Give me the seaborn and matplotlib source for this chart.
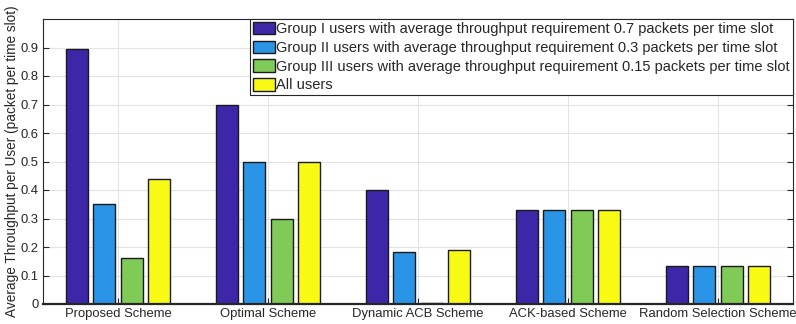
import matplotlib
matplotlib.use("Agg")
import matplotlib.pyplot as plt
import seaborn as sns
import pandas as pd
from matplotlib.patches import Patch

schemes = ["Proposed Scheme", "Optimal Scheme", "Dynamic ACB Scheme",
           "ACK-based Scheme", "Random Selection Scheme"]
group_labels = [
    "Group I users with average throughput requirement 0.7 packets per time slot",
    "Group II users with average throughput requirement 0.3 packets per time slot",
    "Group III users with average throughput requirement 0.15 packets per time slot",
    "All users",
]
group1 = [0.893, 0.70, 0.40, 0.33, 0.135]
group2 = [0.352, 0.50, 0.183, 0.33, 0.135]
group3 = [0.162, 0.30, 0.003, 0.33, 0.135]
all_users = [0.44, 0.50, 0.191, 0.33, 0.135]
yticks = [0, 0.1, 0.2, 0.3, 0.4, 0.5, 0.6, 0.7, 0.8, 0.9]

colors = ["#3E26A8", "#2A95E6", "#80CB58", "#F9FA14"]

rows = []
for label, vals in zip(group_labels, [group1, group2, group3, all_users]):
    for s, v in zip(schemes, vals):
        rows.append({"Scheme": s, "Group": label, "Throughput": v})
df = pd.DataFrame(rows)

sns.set_theme(style="white")
plt.rcParams["font.family"] = ["Liberation Sans", "DejaVu Sans"]

fig = plt.figure(figsize=(7.96, 3.24), dpi=100)
ax = fig.add_axes([43 / 796, 20 / 324, 750 / 796, 285 / 324])

sns.barplot(data=df, x="Scheme", y="Throughput", hue="Group",
            hue_order=group_labels, order=schemes, palette=colors,
            width=0.73, gap=0.2, edgecolor="#1a1a1a", linewidth=1.0,
            saturation=1, legend=False, ax=ax, errorbar=None)

ax.set_xlim(-0.5, 4.5)
ax.set_ylim(0, 1.0)
ax.set_yticks(yticks)
ax.set_yticklabels(["0"] + [f"{t:.1f}" for t in yticks[1:]])
ax.set_xlabel("")
ax.set_ylabel("Average Throughput per User (packet per time slot)",
              fontsize=9.8, color="#262626", labelpad=1)
ax.grid(True, color="#e3e3e3", linewidth=0.8)
ax.set_axisbelow(True)
ax.tick_params(axis="both", direction="in", length=4, width=0.8,
               colors="#262626", labelsize=9.4, pad=3,
               top=False, right=True, left=True, bottom=True)
for side in ["top", "right", "left"]:
    ax.spines[side].set_color("#262626")
    ax.spines[side].set_linewidth(0.8)
    ax.spines[side].set_visible(True)
ax.spines["bottom"].set_color("#262626")
ax.spines["bottom"].set_linewidth(1.6)
ax.spines["bottom"].set_visible(True)

handles = [Patch(facecolor=c, edgecolor="#1a1a1a", linewidth=1.0) for c in colors]
leg = ax.legend(handles, group_labels, loc="upper right", bbox_to_anchor=(1.0, 1.0),
                fontsize=10.5, frameon=True, fancybox=False, framealpha=1,
                edgecolor="#262626", borderpad=0.2, labelspacing=0.3,
                handlelength=1.5, handleheight=0.95, handletextpad=0.1,
                borderaxespad=0)
leg.get_frame().set_linewidth(0.8)

fig.savefig("out.png", dpi=100)
